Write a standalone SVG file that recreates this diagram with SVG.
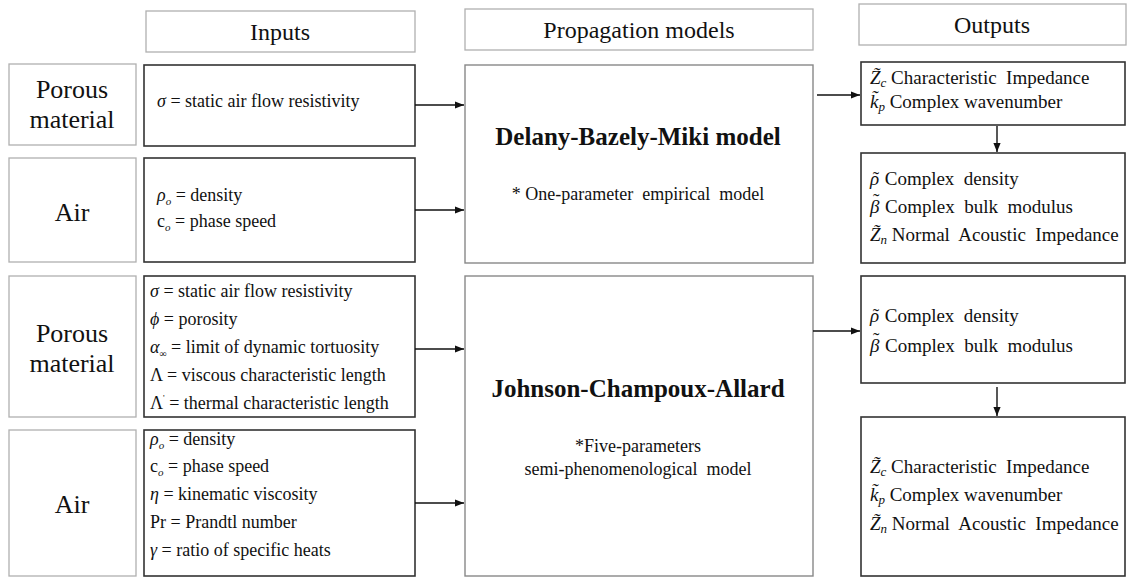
<svg xmlns="http://www.w3.org/2000/svg" width="1127" height="577" viewBox="0 0 1127 577">
<style>
text{fill:#111;font-family:"Liberation Serif",serif}
.hdr{fill:#fff;stroke:#b0b0b0;stroke-width:1.3}
.lab{fill:#fff;stroke:#b0b0b0;stroke-width:1.3}
.inp{fill:#fff;stroke:#333;stroke-width:1.6}
.mid{fill:#fff;stroke:#888;stroke-width:1.4}
.out{fill:#fff;stroke:#333;stroke-width:1.6}
.ht{font-size:24px;text-anchor:middle}
.lt{font-size:26px;text-anchor:middle}
.it{font-size:18px}
.mt{font-size:25px;font-weight:bold;text-anchor:middle}
.st{font-size:18px;text-anchor:middle}
.ot{font-size:19px}
.m{font-style:italic}
.conn{stroke:#111;stroke-width:1.4;fill:none;marker-end:url(#ah)}
</style>
<defs>
<marker id="ah" viewBox="0 0 10 10" refX="10" refY="5" markerWidth="9" markerHeight="9" markerUnits="userSpaceOnUse" orient="auto">
<path d="M0,1 L10,5 L0,9 z" fill="#111"/>
</marker>
</defs>
<rect width="1127" height="577" fill="#fff"/>

<g id="hdr-inputs"><rect class="hdr" x="146" y="11" width="269" height="41"/><text font-family="Liberation Serif" class="ht" x="280" y="40">Inputs</text></g>
<g id="hdr-models"><rect class="hdr" x="465" y="9" width="348" height="41"/><text font-family="Liberation Serif" class="ht" x="639" y="38">Propagation models</text></g>
<g id="hdr-outputs"><rect class="hdr" x="859" y="4" width="267" height="41"/><text font-family="Liberation Serif" class="ht" x="992" y="33">Outputs</text></g>

<g id="lab-porous1"><rect class="lab" x="9" y="64" width="127" height="81"/><text font-family="Liberation Serif" class="lt" x="72" y="98">Porous</text><text font-family="Liberation Serif" class="lt" x="72" y="128">material</text></g>
<g id="lab-air1"><rect class="lab" x="9" y="158" width="127" height="104"/><text font-family="Liberation Serif" class="lt" x="72" y="221">Air</text></g>
<g id="lab-porous2"><rect class="lab" x="9" y="276" width="127" height="141"/><text font-family="Liberation Serif" class="lt" x="72" y="342">Porous</text><text font-family="Liberation Serif" class="lt" x="72" y="372">material</text></g>
<g id="lab-air2"><rect class="lab" x="9" y="430" width="127" height="146"/><text font-family="Liberation Serif" class="lt" x="72" y="513">Air</text></g>

<g id="in-dbm-porous"><rect class="inp" x="144" y="65" width="271" height="81"/>
<text font-family="Liberation Serif" class="it" x="157" y="107"><tspan class="m">σ</tspan> = static air flow resistivity</text></g>
<g id="in-dbm-air"><rect class="inp" x="144" y="158" width="271" height="104"/>
<text font-family="Liberation Serif" class="it" x="157" y="201"><tspan class="m">ρ</tspan><tspan class="m" font-size="11" dy="4">o</tspan><tspan dy="-4"> = density</tspan></text>
<text font-family="Liberation Serif" class="it" x="157" y="227">c<tspan class="m" font-size="11" dy="4">o</tspan><tspan dy="-4"> = phase speed</tspan></text></g>
<g id="in-jca-porous"><rect class="inp" x="144" y="276" width="271" height="141"/>
<text font-family="Liberation Serif" class="it" x="150" y="297"><tspan class="m">σ</tspan> = static air flow resistivity</text>
<text font-family="Liberation Serif" class="it" x="150" y="325"><tspan class="m">ϕ</tspan> = porosity</text>
<text font-family="Liberation Serif" class="it" x="150" y="353"><tspan class="m">α</tspan><tspan font-size="10" dy="4">∞</tspan><tspan dy="-4"> = limit of dynamic tortuosity</tspan></text>
<text font-family="Liberation Serif" class="it" x="150" y="381">Λ = viscous characteristic length</text>
<text font-family="Liberation Serif" class="it" x="150" y="409">Λ<tspan font-size="9" dy="-8">'</tspan><tspan dy="8"> = thermal characteristic length</tspan></text></g>
<g id="in-jca-air"><rect class="inp" x="144" y="430" width="271" height="146"/>
<text font-family="Liberation Serif" class="it" x="150" y="445"><tspan class="m">ρ</tspan><tspan class="m" font-size="11" dy="4">o</tspan><tspan dy="-4"> = density</tspan></text>
<text font-family="Liberation Serif" class="it" x="150" y="472">c<tspan class="m" font-size="11" dy="4">o</tspan><tspan dy="-4"> = phase speed</tspan></text>
<text font-family="Liberation Serif" class="it" x="150" y="500"><tspan class="m">η</tspan> = kinematic viscosity</text>
<text font-family="Liberation Serif" class="it" x="150" y="528">Pr = Prandtl number</text>
<text font-family="Liberation Serif" class="it" x="150" y="556"><tspan class="m">γ</tspan> = ratio of specific heats</text></g>

<g id="model-dbm"><rect class="mid" x="465" y="65" width="348" height="198"/>
<text font-family="Liberation Serif" class="mt" x="638" y="145">Delany-Bazely-Miki model</text>
<text font-family="Liberation Serif" class="st" x="638" y="200">* One-parameter&#160; empirical&#160; model</text></g>
<g id="model-jca"><rect class="mid" x="465" y="276" width="348" height="300"/>
<text font-family="Liberation Serif" class="mt" x="638" y="397">Johnson-Champoux-Allard</text>
<text font-family="Liberation Serif" class="st" x="638" y="452">*Five-parameters</text>
<text font-family="Liberation Serif" class="st" x="638" y="475">semi-phenomenological&#160; model</text></g>

<g id="out-dbm-1"><rect class="out" x="861" y="62" width="264" height="63"/>
<text font-family="Liberation Serif" class="ot" x="870" y="84"><tspan class="m">Z̃</tspan><tspan class="m" font-size="13" dy="3">c</tspan><tspan dy="-3"> Characteristic&#160; Impedance</tspan></text>
<text font-family="Liberation Serif" class="ot" x="870" y="108"><tspan class="m">k̃</tspan><tspan class="m" font-size="13" dy="3">p</tspan><tspan dy="-3"> Complex wavenumber</tspan></text></g>
<g id="out-dbm-2"><rect class="out" x="861" y="153" width="264" height="110"/>
<text font-family="Liberation Serif" class="ot" x="870" y="185"><tspan class="m">ρ</tspan><tspan dx="-6.5">˜</tspan><tspan dx="1"> Complex&#160; density</tspan></text>
<text font-family="Liberation Serif" class="ot" x="870" y="213"><tspan class="m">β</tspan><tspan dx="-6.5" dy="-6">˜</tspan><tspan dx="1" dy="6"> Complex&#160; bulk&#160; modulus</tspan></text>
<text font-family="Liberation Serif" class="ot" x="870" y="241"><tspan class="m">Z̃</tspan><tspan class="m" font-size="13" dy="3">n</tspan><tspan dy="-3"> Normal&#160; Acoustic&#160; Impedance</tspan></text></g>
<g id="out-jca-1"><rect class="out" x="861" y="276" width="264" height="107"/>
<text font-family="Liberation Serif" class="ot" x="870" y="322"><tspan class="m">ρ</tspan><tspan dx="-6.5">˜</tspan><tspan dx="1"> Complex&#160; density</tspan></text>
<text font-family="Liberation Serif" class="ot" x="870" y="352"><tspan class="m">β</tspan><tspan dx="-6.5" dy="-6">˜</tspan><tspan dx="1" dy="6"> Complex&#160; bulk&#160; modulus</tspan></text></g>
<g id="out-jca-2"><rect class="out" x="861" y="417" width="264" height="159"/>
<text font-family="Liberation Serif" class="ot" x="870" y="473"><tspan class="m">Z̃</tspan><tspan class="m" font-size="13" dy="3">c</tspan><tspan dy="-3"> Characteristic&#160; Impedance</tspan></text>
<text font-family="Liberation Serif" class="ot" x="870" y="501"><tspan class="m">k̃</tspan><tspan class="m" font-size="13" dy="3">p</tspan><tspan dy="-3"> Complex wavenumber</tspan></text>
<text font-family="Liberation Serif" class="ot" x="870" y="530"><tspan class="m">Z̃</tspan><tspan class="m" font-size="13" dy="3">n</tspan><tspan dy="-3"> Normal&#160; Acoustic&#160; Impedance</tspan></text></g>

<g id="connectors">
<line class="conn" x1="415" y1="105" x2="464" y2="105"/>
<line class="conn" x1="415" y1="210" x2="464" y2="210"/>
<line class="conn" x1="415" y1="349" x2="464" y2="349"/>
<line class="conn" x1="415" y1="503" x2="464" y2="503"/>
<line class="conn" x1="817" y1="95" x2="860" y2="95"/>
<line class="conn" x1="813" y1="331" x2="860" y2="331"/>
<line class="conn" x1="997" y1="126" x2="997" y2="152"/>
<line class="conn" x1="997" y1="387" x2="997" y2="416"/>
</g>
</svg>
